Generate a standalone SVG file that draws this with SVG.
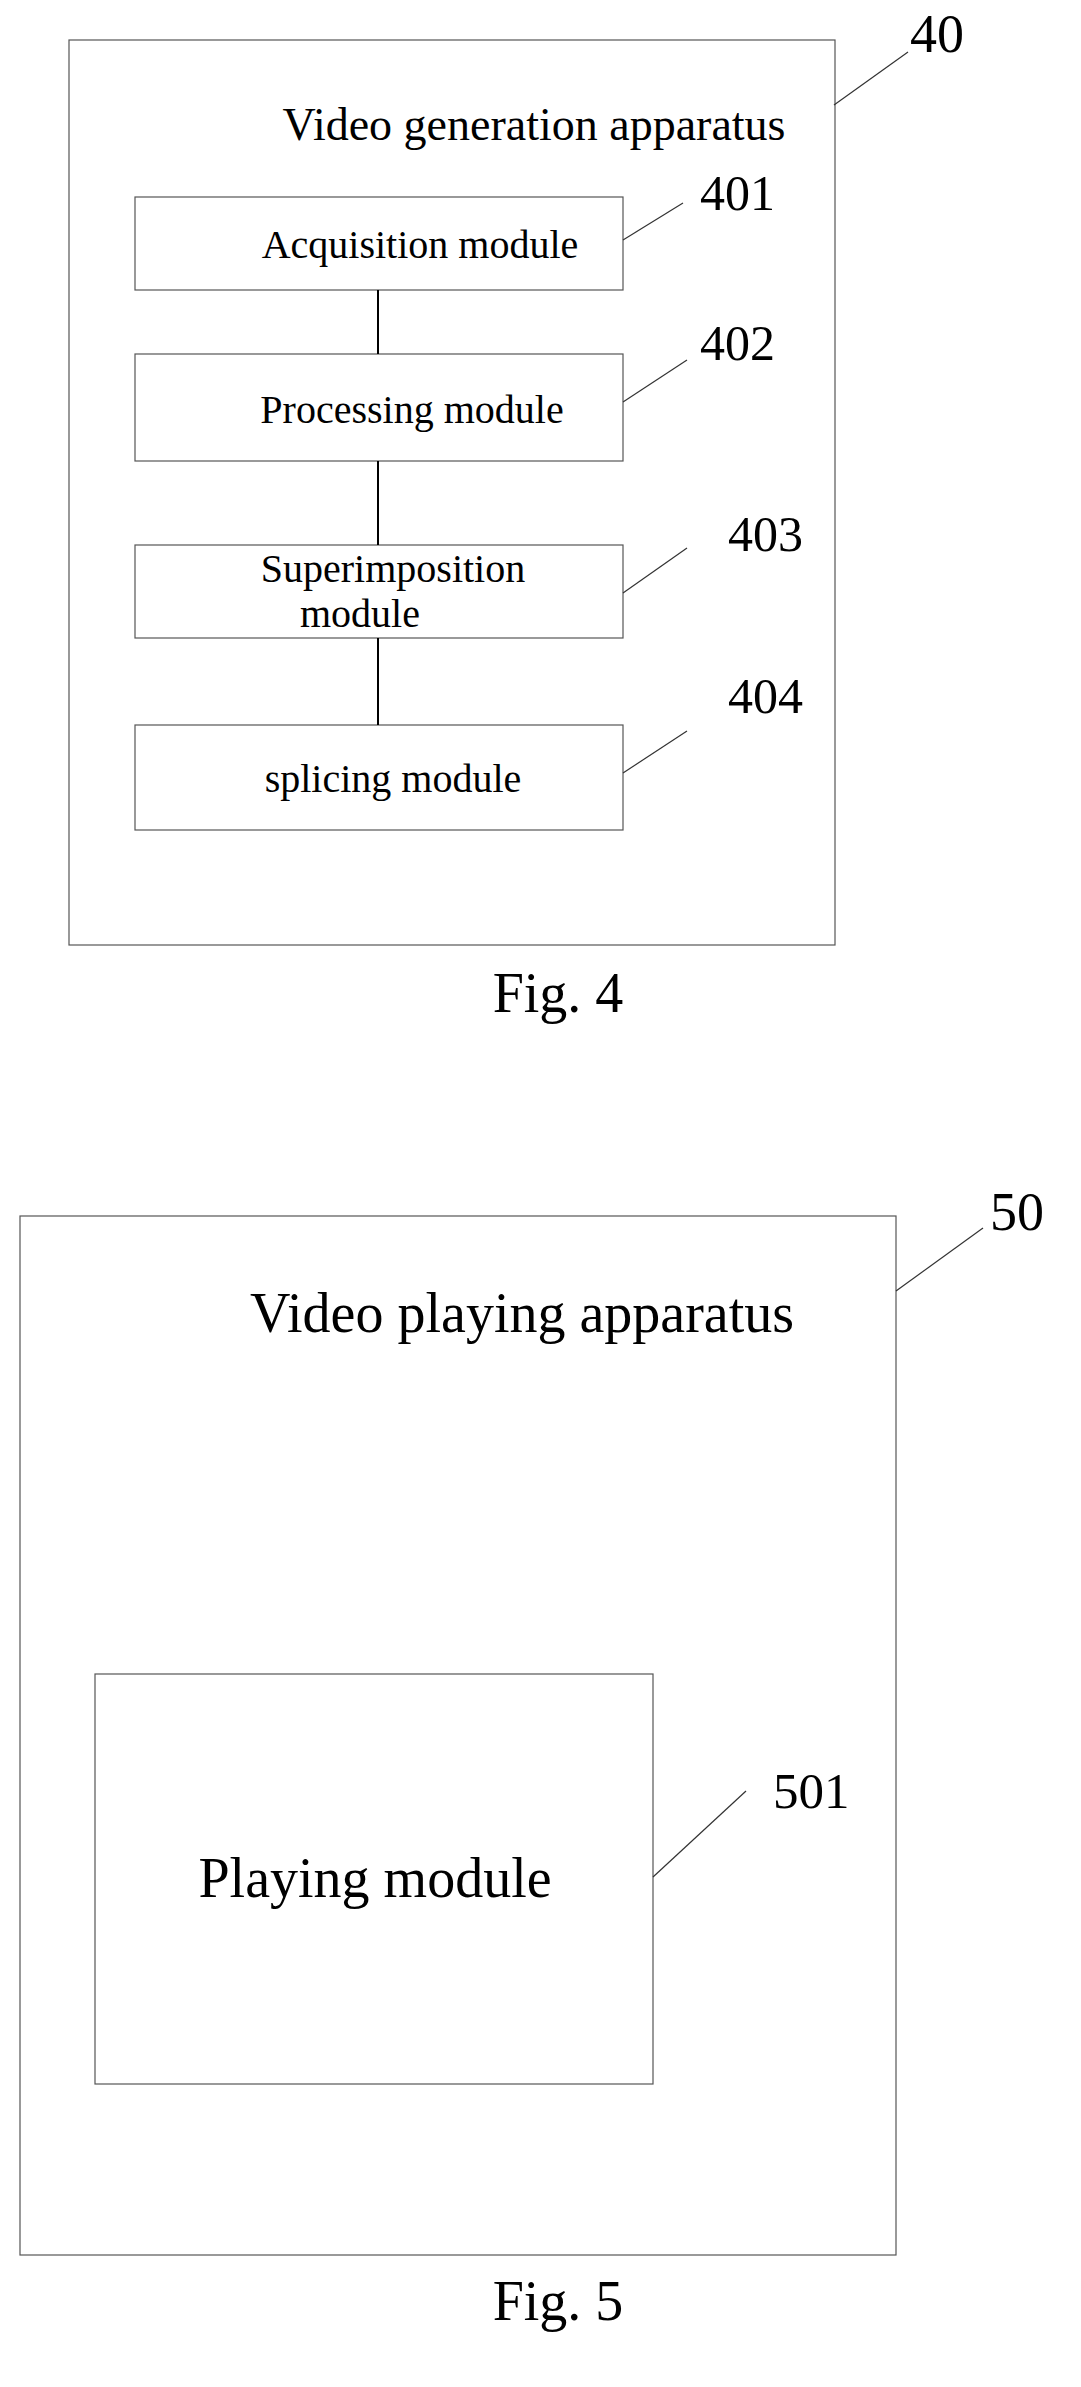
<svg xmlns="http://www.w3.org/2000/svg" width="1081" height="2387" viewBox="0 0 1081 2387">
<style>
.b{fill:none;stroke:#555;stroke-width:1.2}
.l{stroke:#333;stroke-width:1.2;fill:none}
.c{stroke:#000;stroke-width:2;fill:none}
text{font-family:"Liberation Serif",serif;fill:#000}
.m{font-size:40px;text-anchor:middle}
.n{font-size:50px}
</style>
<rect width="1081" height="2387" fill="#fff"/>
<g id="fig4">
<rect class="b" x="69" y="40" width="766" height="905"/>
<text x="534" y="140" style="font-size:46px;text-anchor:middle">Video generation apparatus</text>
<text class="n" x="910" y="52" style="font-size:54px">40</text>
</g>
<g id="n401"><rect class="b" x="135" y="197" width="488" height="93"/><text class="m" x="420" y="258">Acquisition module</text><text class="n" x="700" y="210">401</text></g>
<g id="n402"><rect class="b" x="135" y="354" width="488" height="107"/><text class="m" x="412" y="423">Processing module</text><text class="n" x="700" y="360">402</text></g>
<g id="n403"><rect class="b" x="135" y="545" width="488" height="93"/><text class="m" x="393" y="582">Superimposition</text><text class="m" x="360" y="627">module</text><text class="n" x="728" y="551">403</text></g>
<g id="n404"><rect class="b" x="135" y="725" width="488" height="105"/><text class="m" x="393" y="792">splicing module</text><text class="n" x="728" y="713">404</text></g>
<text x="558" y="1012" style="font-size:56px;text-anchor:middle">Fig. 4</text>
<g id="fig5">
<rect class="b" x="20" y="1216" width="876" height="1039"/>
<text x="522" y="1332" style="font-size:56px;text-anchor:middle">Video playing apparatus</text>
<text x="990" y="1230" style="font-size:54px">50</text>
</g>
<g id="n501"><rect class="b" x="95" y="1674" width="558" height="410"/><text x="375" y="1897" style="font-size:56px;text-anchor:middle">Playing module</text><text x="773" y="1808" style="font-size:51px">501</text></g>
<text x="558" y="2320" style="font-size:56px;text-anchor:middle">Fig. 5</text>
<g id="connectors">
<line class="c" x1="378" y1="290" x2="378" y2="354"/>
<line class="c" x1="378" y1="461" x2="378" y2="545"/>
<line class="c" x1="378" y1="638" x2="378" y2="725"/>
<line class="l" x1="834" y1="105" x2="908" y2="52"/>
<line class="l" x1="623" y1="240" x2="683" y2="203"/>
<line class="l" x1="623" y1="402" x2="687" y2="360"/>
<line class="l" x1="623" y1="593" x2="687" y2="548"/>
<line class="l" x1="623" y1="773" x2="687" y2="731"/>
<line class="l" x1="896" y1="1291" x2="983" y2="1228"/>
<line class="l" x1="653" y1="1877" x2="746" y2="1791"/>
</g>
</svg>
